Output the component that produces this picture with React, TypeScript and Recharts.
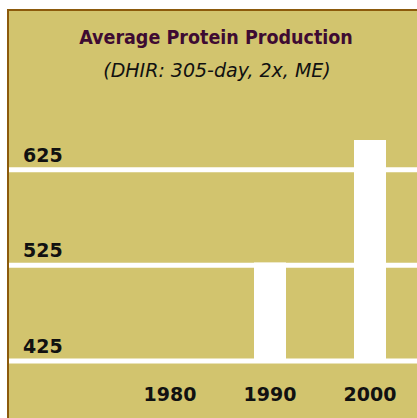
import { Bar, BarChart, CartesianGrid, XAxis, YAxis } from "recharts";

const years = ["1980", "1990", "2000"];
const protein = [null, 528, 656];
const yTicks = [425, 525, 625];

const data = years.map((y, i) => ({ year: y, protein: protein[i] }));

const tickFont = "'DejaVu Sans', Verdana, sans-serif";

function YTick(props: any) {
  const { y, payload } = props;
  return (
    <text x={14} y={y - 8} textAnchor="start" fontFamily={tickFont} fontWeight="bold" fontSize={19} fill="#111">
      {payload.value}
    </text>
  );
}

function XTick(props: any) {
  const { x, payload } = props;
  return (
    <text x={x} y={390} textAnchor="middle" fontFamily={tickFont} fontWeight="bold" fontSize={19} fill="#111">
      {payload.value}
    </text>
  );
}

export default function App() {
  return (
    <div
      style={{
        position: "fixed",
        left: 7,
        top: 9,
        width: 420,
        height: 420,
        boxSizing: "border-box",
        borderLeft: "2px solid #8c5a0c",
        borderTop: "2px solid #8c5a0c",
        background: "#d2c46e",
        overflow: "hidden",
      }}
    >
      <div
        style={{
          position: "absolute",
          left: 0,
          width: 414,
          top: 15,
          textAlign: "center",
          fontFamily: "'DejaVu Sans Condensed', 'DejaVu Sans', sans-serif",
          fontStretch: "condensed",
          fontWeight: "bold",
          fontSize: 19.5,
          color: "#3e0b32",
        }}
      >
        Average Protein Production
      </div>
      <div
        style={{
          position: "absolute",
          left: 0,
          width: 416,
          top: 48,
          textAlign: "center",
          fontFamily: "'DejaVu Sans', sans-serif",
          fontStyle: "italic",
          fontSize: 19,
          color: "#111",
        }}
      >
        (DHIR: 305-day, 2x, ME)
      </div>
      <BarChart
        width={418}
        height={418}
        data={data}
        margin={{ top: 63, right: 0, bottom: 0, left: -1 }}
        style={{ position: "absolute", left: 0, top: 0 }}
      >
        <CartesianGrid vertical={false} stroke="#ffffff" strokeWidth={5} horizontalValues={yTicks} />
        <XAxis
          dataKey="year"
          height={68}
          axisLine={false}
          tickLine={false}
          padding={{ left: 111, right: 7 }}
          tick={<XTick />}
        />
        <YAxis
          width={1}
          type="number"
          domain={[425, 725]}
          ticks={yTicks}
          interval={0}
          axisLine={false}
          tickLine={false}
          tick={(p: any) => <YTick {...p} />}
        />
        <Bar dataKey="protein" fill="#ffffff" barSize={32} isAnimationActive={false} />
      </BarChart>
    </div>
  );
}
